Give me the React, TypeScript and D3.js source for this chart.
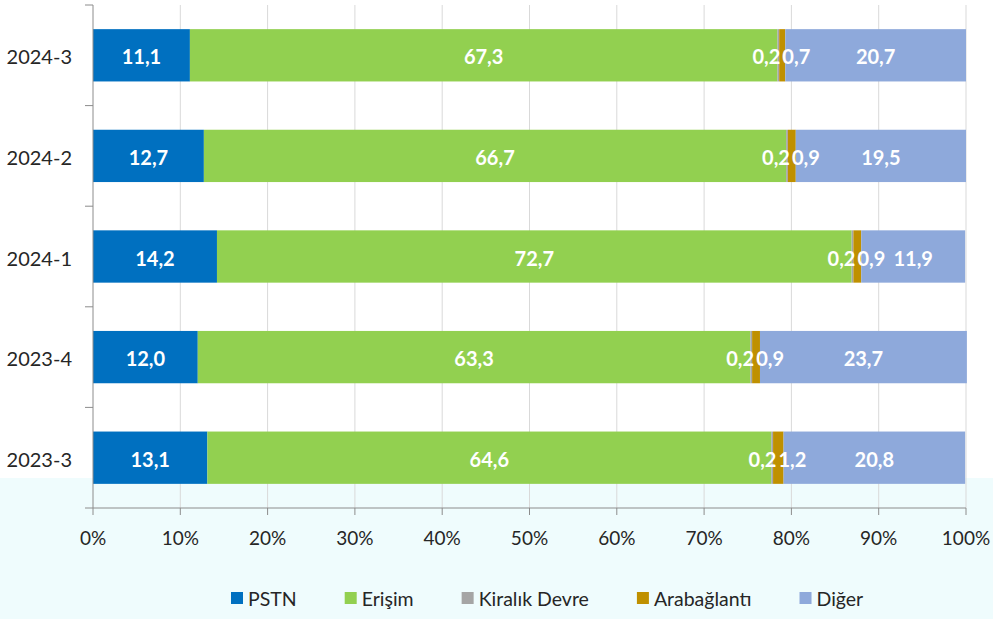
import React, { useEffect, useRef } from "react";
import * as d3 from "d3";

const categories = ["2024-3", "2024-2", "2024-1", "2023-4", "2023-3"];
const seriesNames = ["PSTN", "Erişim", "Kiralık Devre", "Arabağlantı", "Diğer"];
const pstn = [11.1, 12.7, 14.2, 12.0, 13.1];
const erisim = [67.3, 66.7, 72.7, 63.3, 64.6];
const kiralik = [0.2, 0.2, 0.2, 0.2, 0.2];
const arabaglanti = [0.7, 0.9, 0.9, 0.9, 1.2];
const diger = [20.7, 19.5, 11.9, 23.7, 20.8];
const xTicks = [0, 10, 20, 30, 40, 50, 60, 70, 80, 90, 100];

const colors = ["#0070C0", "#92D050", "#A5A5A5", "#BF9000", "#8EA9DB"];

const W = 993;
const H = 619;
const FONT = "Lato, 'Open Sans', sans-serif";

export default function App() {
  const ref = useRef<SVGSVGElement>(null);

  useEffect(() => {
    const svg = d3.select(ref.current);
    svg.selectAll("*").remove();

    const x = d3.scaleLinear().domain([0, 100]).range([93, 966]);
    const y = d3
      .scaleBand<string>()
      .domain(categories)
      .range([5, 508])
      .paddingInner(0.48)
      .paddingOuter(0.24);

    // backgrounds
    svg.append("rect").attr("x", 0).attr("y", 0).attr("width", W).attr("height", H).attr("fill", "#ffffff");
    svg.append("rect").attr("x", 0).attr("y", 478).attr("width", W).attr("height", H - 478).attr("fill", "#EFFCFD");

    // gridlines
    svg
      .append("g")
      .selectAll("line")
      .data(xTicks.slice(1))
      .join("line")
      .attr("x1", (d) => x(d))
      .attr("x2", (d) => x(d))
      .attr("y1", 5)
      .attr("y2", 508)
      .attr("stroke", "#D9D9D9")
      .attr("stroke-width", 1);

    const data = categories.map((c, i) => ({
      cat: c,
      vals: [pstn[i], erisim[i], kiralik[i], arabaglanti[i], diger[i]],
    }));

    const stacked = d3
      .stack<any>()
      .keys(seriesNames.map((_, i) => String(i)))
      .value((d: any, key) => d.vals[+key])(data);

    // bars
    stacked.forEach((layer, si) => {
      svg
        .append("g")
        .selectAll("rect")
        .data(layer)
        .join("rect")
        .attr("x", (d) => x(d[0]))
        .attr("width", (d) => x(d[1]) - x(d[0]))
        .attr("y", (d) => y((d.data as any).cat)!)
        .attr("height", y.bandwidth())
        .attr("fill", colors[si]);
    });

    // labels
    const fmt = (v: number) => v.toFixed(1).replace(".", ",");
    const lbl = svg
      .append("g")
      .attr("font-family", FONT)
      .attr("font-size", 20)
      .attr("font-weight", "bold")
      .attr("fill", "#ffffff");

    data.forEach((row, ri) => {
      const cy = y(row.cat)! + y.bandwidth() / 2 + 1;
      const seg = (si: number) => stacked[si][ri];
      [0, 1, 4].forEach((si) => {
        const s = seg(si);
        lbl
          .append("text")
          .attr("x", (x(s[0]) + x(s[1])) / 2)
          .attr("y", cy)
          .attr("text-anchor", "middle")
          .attr("dominant-baseline", "central")
          .text(fmt(row.vals[si]));
      });
      // small segments: labels packed around the joint midpoint
      const mid = (x(seg(2)[0]) + x(seg(3)[1])) / 2;
      lbl
        .append("text")
        .attr("x", mid - 1)
        .attr("y", cy)
        .attr("text-anchor", "end")
        .attr("dominant-baseline", "central")
        .text(fmt(row.vals[2]));
      lbl
        .append("text")
        .attr("x", mid + 1)
        .attr("y", cy)
        .attr("text-anchor", "start")
        .attr("dominant-baseline", "central")
        .text(fmt(row.vals[3]));
    });

    // axes
    const axisColor = "#8C8C8C";
    const ax = svg.append("g").attr("stroke", axisColor).attr("stroke-width", 1);
    ax.append("line").attr("x1", 93).attr("x2", 93).attr("y1", 5).attr("y2", 508);
    ax.append("line").attr("x1", 85).attr("x2", 966).attr("y1", 508).attr("y2", 508);
    const catBounds = categories.map((c) => y(c)! - (y.step() * y.paddingInner()) / 2);
    catBounds.forEach((b) => {
      ax.append("line").attr("x1", 85).attr("x2", 93).attr("y1", b).attr("y2", b);
    });
    xTicks.forEach((t) => {
      ax.append("line").attr("x1", x(t)).attr("x2", x(t)).attr("y1", 508).attr("y2", 515);
    });

    // y labels
    svg
      .append("g")
      .attr("font-family", FONT)
      .attr("font-size", 20)
      .attr("fill", "#262626")
      .selectAll("text")
      .data(categories)
      .join("text")
      .attr("x", 72)
      .attr("y", (d) => y(d)! + y.bandwidth() / 2 + 1)
      .attr("text-anchor", "end")
      .attr("dominant-baseline", "central")
      .text((d) => d);

    // x labels
    svg
      .append("g")
      .attr("font-family", FONT)
      .attr("font-size", 19)
      .attr("fill", "#262626")
      .selectAll("text")
      .data(xTicks)
      .join("text")
      .attr("x", (d) => x(d))
      .attr("y", 537)
      .attr("text-anchor", "middle")
      .attr("dominant-baseline", "central")
      .text((d) => `${d}%`);

    // legend
    const lg = svg.append("g").attr("font-family", FONT).attr("font-size", 19.5).attr("fill", "#262626");
    let lx = 231;
    seriesNames.forEach((name, i) => {
      lg.append("rect").attr("x", lx).attr("y", 592).attr("width", 12).attr("height", 12).attr("fill", colors[i]);
      const t = lg
        .append("text")
        .attr("x", lx + 17)
        .attr("y", 598)
        .attr("dominant-baseline", "central")
        .text(name);
      const w = (t.node() as SVGTextElement).getComputedTextLength();
      lx = lx + 17 + w + 48;
    });
  }, []);

  return (
    <svg
      ref={ref}
      width={W}
      height={H}
      style={{ position: "absolute", left: 0, top: 0, display: "block" }}
    />
  );
}
